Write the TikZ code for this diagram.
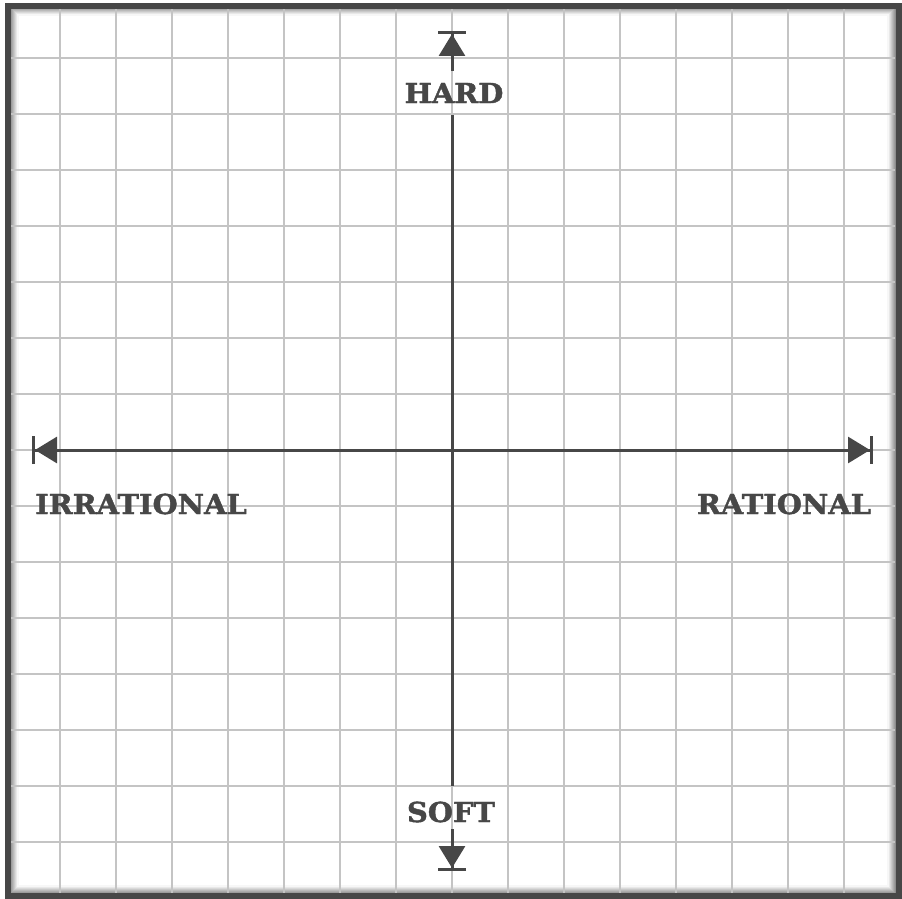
\documentclass[tikz,border=0pt]{standalone}
\usepackage{fontspec}
\newfontfamily\labelfont[FakeBold=1.5,FakeStretch=1.05]{DejaVu Serif Bold}
\usetikzlibrary{arrows.meta}
\definecolor{axisgray}{HTML}{474747}
\definecolor{gridgray}{HTML}{C4C4C4}
\tikzset{
  axis/.style={draw=axisgray, line width=3pt},
  axislabel/.style={text=axisgray, font=\labelfont\fontsize{27.5}{27.5}\selectfont, inner sep=0pt},
  tip/.tip={Triangle[width=26pt,length=22pt] Bar[width=28pt,line width=3pt,sep=0pt]}
}
\begin{document}
\begin{tikzpicture}[x=1pt,y=-1pt]
\useasboundingbox (0,0) rectangle (902,899);
\fill[white] (5,3) rectangle (902,899);
% shadow inside the frame
\foreach \i in {0,...,7} {
  \pgfmathsetmacro\shade{45-6*\i}
  \draw[black!\shade, line width=1.2pt] (11+\i,8+\i) rectangle (895-\i,893-\i);
}
% grid
\foreach \k in {0,...,14} {
  \draw[gridgray, line width=2pt] (60+56*\k,8) -- (60+56*\k,893);
  \draw[gridgray, line width=2pt] (11,58+56*\k) -- (895,58+56*\k);
}
\draw[axisgray, line width=6pt] (8,6) rectangle (898.5,896);
% axes
\coordinate (top) at (452,31);
\coordinate (bottom) at (452,871);
\coordinate (left) at (32,450);
\coordinate (right) at (873,450);
\node[axislabel, minimum height=44pt] (hard) at (454,93) {HARD};
\node[axislabel, minimum height=34pt] (soft) at (451,812) {SOFT};
\node[axislabel] (irrational) at (141,504) {IRRATIONAL};
\node[axislabel] (rational) at (784,504) {RATIONAL};
\draw[axis, -{tip}] (hard.north -| top) -- (top);
\draw[axis, shorten >=9pt] (hard.south -| top) -- (soft.north -| top);
\draw[axis, -{tip}] (soft.south -| top) -- (bottom);
\draw[axis, {tip}-{tip}] (left) -- (right);
\end{tikzpicture}
\end{document}
